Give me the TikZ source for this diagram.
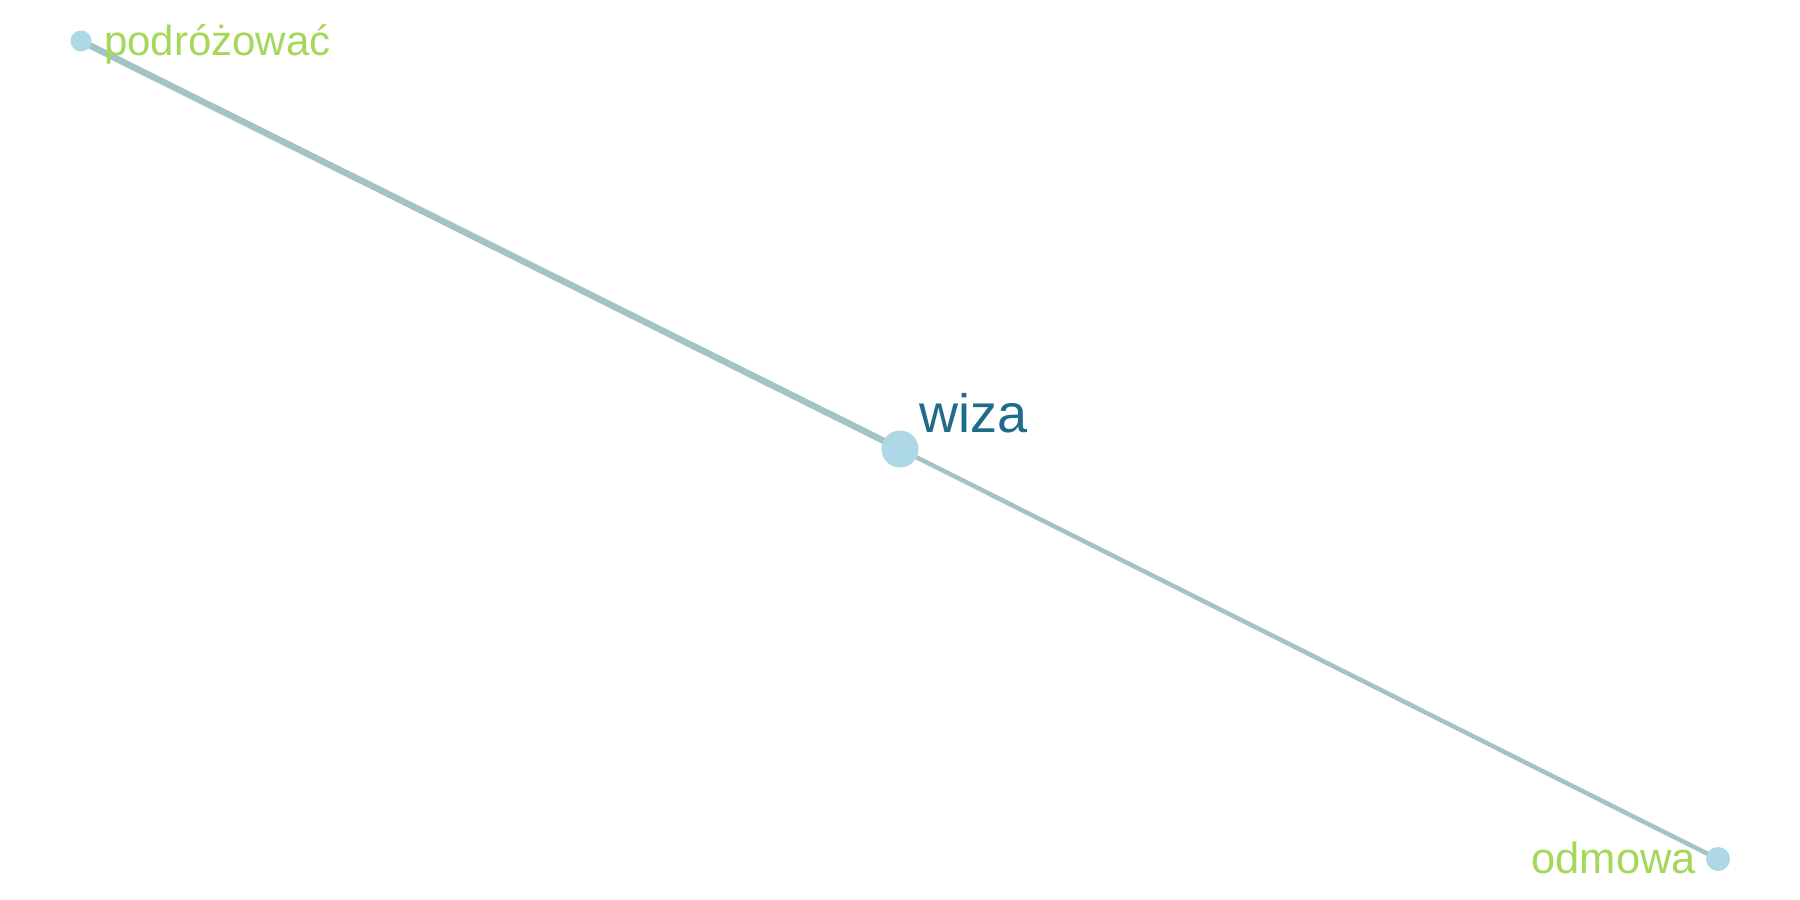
\documentclass[tikz,border=0pt]{standalone}
\usepackage{fontspec}
\setmainfont{Liberation Sans}
\definecolor{edgec}{HTML}{A3C3C4}
\definecolor{nodec}{HTML}{ADD8E6}
\definecolor{leafc}{HTML}{A5D75A}
\definecolor{hubc}{HTML}{1F6B89}
\begin{document}
\begin{tikzpicture}[x=1pt,y=-1pt,
  vtx/.style={circle,fill=nodec,draw=none,inner sep=0pt},
  lbl/.style={inner sep=0pt,anchor=base west},
  link/.style={draw=edgec,line cap=round}]
\useasboundingbox (0,0) rectangle (1800,900);
\coordinate (p) at (81,41);
\coordinate (w) at (900,449);
\coordinate (o) at (1718,859);
\draw[link,line width=6.5pt] (p) -- (w);
\draw[link,line width=4.5pt] (w) -- (o);
\node[vtx,minimum size=21pt] (pn) at (p) {};
\node[vtx,minimum size=37pt] (wn) at (w) {};
\node[vtx,minimum size=24pt] (on) at (o) {};
\node[lbl,text=leafc,font=\fontsize{42}{42}\selectfont] (pl) at (104,55) {podróżować};
\node[lbl,text=hubc,font=\fontsize{54}{54}\selectfont] (wl) at (919,432) {wiza};
\node[inner sep=0pt,anchor=base east,text=leafc,font=\fontsize{43.5}{43.5}\selectfont] (ol) at (1696,873) {odmowa};
\end{tikzpicture}
\end{document}
